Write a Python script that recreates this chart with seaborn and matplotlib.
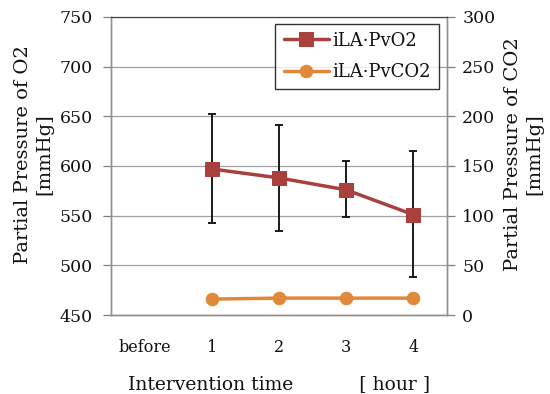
import numpy as np
import pandas as pd
import matplotlib
matplotlib.use("Agg")
import matplotlib.pyplot as plt
import seaborn as sns

# data
categories = ["before", "1", "2", "3", "4"]
hours = ["1", "2", "3", "4"]
pvo2 = [597, 588, 576, 551]
pvo2_upper = [652, 641, 605, 615]
pvo2_lower = [543, 535, 549, 488]
pvco2 = [16, 17, 17, 17]

sns.set_style("white")
plt.rcParams["font.family"] = ["DejaVu Serif"]
plt.rcParams["font.size"] = 12
plt.rcParams["text.color"] = "#111111"
plt.rcParams["axes.labelcolor"] = "#111111"
plt.rcParams["xtick.labelcolor"] = "#111111"
plt.rcParams["ytick.labelcolor"] = "#111111"

c_o2 = "#A9403D"
c_co2 = "#E0893B"

xpos = [categories.index(h) for h in hours]
df = pd.DataFrame({"x": xpos, "PvO2": pvo2, "PvCO2": pvco2})

fig = plt.figure(figsize=(5.5, 3.94), dpi=100)
ax = fig.add_axes([0.2018, 0.2005, 0.6109, 0.7564])
ax2 = ax.twinx()

# gridlines
ax.set_ylim(450, 750)
ax.set_yticks(np.arange(450, 751, 50))
ax.yaxis.grid(True, color="#A0A0A0", lw=0.9)
ax.set_axisbelow(True)

# error bars
yerr = [np.array(pvo2) - np.array(pvo2_lower), np.array(pvo2_upper) - np.array(pvo2)]
ax.errorbar(xpos, pvo2, yerr=yerr, fmt="none", ecolor="#1a1a1a", elinewidth=1.4,
            capsize=3, capthick=1.4, zorder=3)

sns.lineplot(data=df, x="x", y="PvO2", ax=ax, color=c_o2, marker="s", markersize=10,
             markeredgecolor=c_o2, lw=2.5, zorder=4, label="iLA·PvO2", legend=False)
sns.lineplot(data=df, x="x", y="PvCO2", ax=ax2, color=c_co2, marker="o", markersize=9,
             markeredgecolor=c_co2, lw=2.5, zorder=4, label="iLA·PvCO2", legend=False)

ax2.set_ylim(0, 300)
ax2.set_yticks(np.arange(0, 301, 50))

ax.set_xlim(-0.5, 4.5)
ax.set_xticks(np.arange(-0.5, 4.6, 1))
ax.set_xticklabels([])
ax.set_xticks(range(len(categories)), minor=True)
ax.set_xticklabels(categories, minor=True)
ax.tick_params(axis="x", which="major", direction="out", length=6, color="#808080", width=0.9)
ax.tick_params(axis="x", which="minor", length=0, pad=17, labelsize=11.5)
ax.tick_params(axis="y", direction="out", length=6, color="#808080", width=0.9, pad=7,
               labelsize=12.5)
ax2.tick_params(axis="y", direction="out", length=6, color="#808080", width=0.9, pad=5,
                labelsize=12.5)

for a in (ax, ax2):
    for s in ["left", "right", "bottom"]:
        a.spines[s].set_color("#909090")
        a.spines[s].set_linewidth(1.0)
    a.spines["top"].set_color("#404040")

ax.set_xlabel("Intervention time           [ hour ]", fontsize=13.5, labelpad=14)
ax.set_ylabel("Partial Pressure of O2\n[mmHg]", fontsize=14, linespacing=1.2)
ax.yaxis.set_label_coords(-0.172, 0.54)
ax2.set_ylabel("Partial Pressure of CO2\n[mmHg]", fontsize=14, linespacing=1.2)
ax2.yaxis.set_label_position("right")
ax2.yaxis.set_label_coords(1.17, 0.54)

h1, l1 = ax.get_legend_handles_labels()
h2, l2 = ax2.get_legend_handles_labels()
leg = ax2.legend(h1 + h2, l1 + l2, loc="upper right", bbox_to_anchor=(0.976, 0.978),
                 fancybox=False, shadow=False, edgecolor="black", fontsize=13,
                 handlelength=2.5, handletextpad=0.2, borderpad=0.45, labelspacing=0.75,
                 borderaxespad=0)
leg.get_frame().set_linewidth(1.0)

fig.savefig("out.png", dpi=100)
